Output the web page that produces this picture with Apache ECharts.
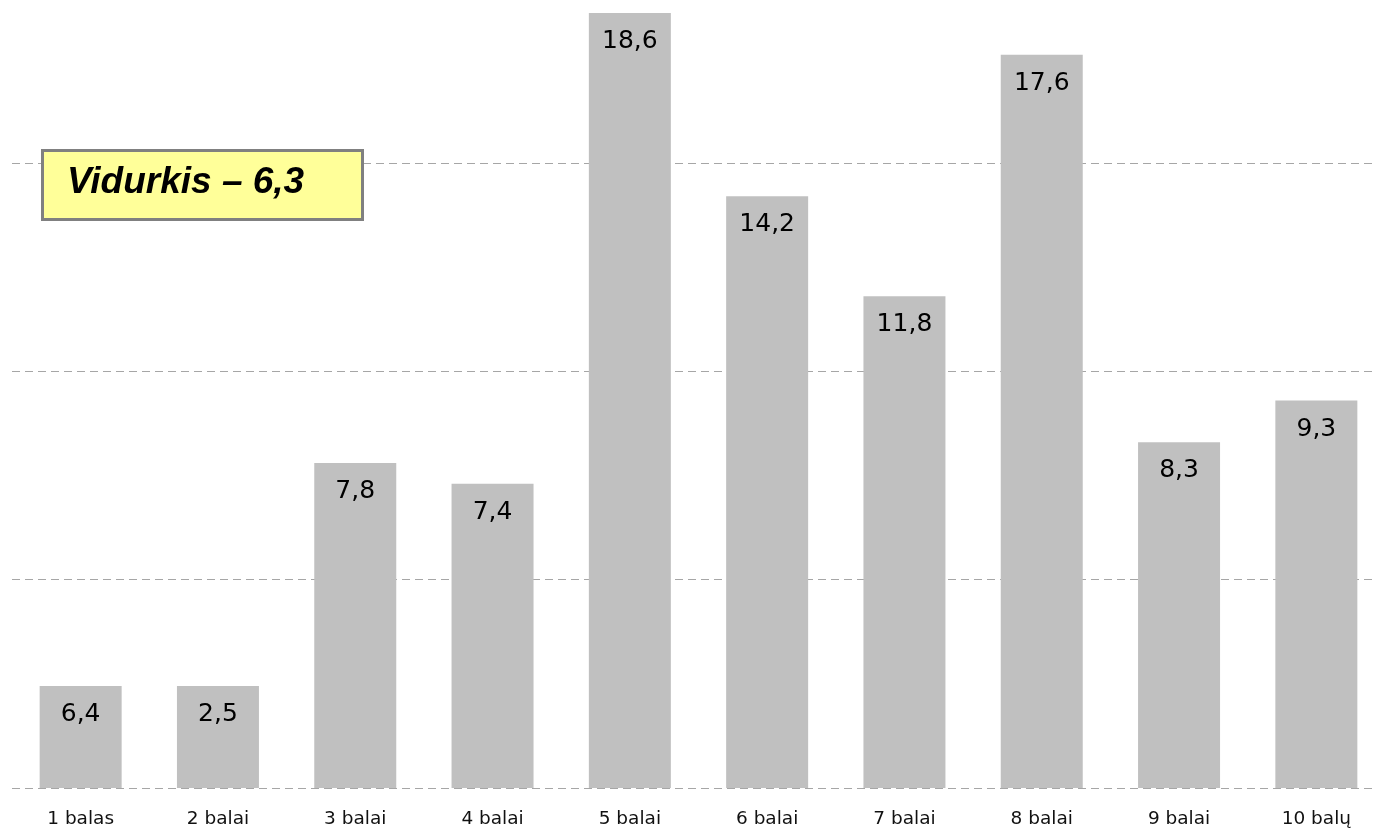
<!DOCTYPE html>
<html>
<head>
<meta charset="utf-8">
<script src="https://cdn.jsdelivr.net/npm/echarts@6/dist/echarts.min.js"></script>
<style>
html,body{margin:0;padding:0;background:#fff;overflow:hidden;}
#chart{width:1392px;height:829px;}
</style>
</head>
<body>
<div id="chart"></div>
<script>
const categories = ['1 balas','2 balai','3 balai','4 balai','5 balai','6 balai','7 balai','8 balai','9 balai','10 balų'];
const values = [2.45, 2.45, 7.8, 7.3, 18.6, 14.2, 11.8, 17.6, 8.3, 9.3];
const valueLabels = ['6,4','2,5','7,8','7,4','18,6','14,2','11,8','17,6','8,3','9,3'];
const averageText = 'Vidurkis – 6,3';

const chart = echarts.init(document.getElementById('chart'), null, {renderer: 'canvas'});
chart.setOption({
  animation: false,
  backgroundColor: '#ffffff',
  grid: {left: 12, width: 1373, top: 13, height: 775, containLabel: false},
  xAxis: {
    type: 'category',
    data: categories,
    axisLine: {show: false},
    axisTick: {show: false},
    axisLabel: {
      margin: 22,
      color: '#111',
      fontFamily: 'DejaVu Sans',
      fontSize: 18.5
    }
  },
  yAxis: {
    type: 'value',
    min: 0,
    max: 18.6,
    interval: 5,
    axisLine: {show: false},
    axisTick: {show: false},
    axisLabel: {show: false},
    splitLine: {
      show: true,
      showMaxLine: false,
      lineStyle: {color: '#a6a6a6', width: 1, type: [8, 5]}
    }
  },
  series: [{
    type: 'bar',
    data: values,
    barWidth: 82,
    itemStyle: {color: '#c0c0c0'},
    z: 3,
    label: {
      show: true,
      position: 'insideTop',
      distance: 16,
      color: '#000',
      fontFamily: 'DejaVu Sans',
      fontSize: 25,
      formatter: p => valueLabels[p.dataIndex]
    }
  }],
  graphic: [{
    type: 'rect',
    left: 41,
    top: 149,
    z: 100,
    shape: {x: 0, y: 0, width: 320, height: 69},
    style: {fill: '#ffff99', stroke: '#808080', lineWidth: 3}
  }, {
    type: 'text',
    left: 67,
    top: 164,
    z: 101,
    style: {
      text: averageText,
      fill: '#000',
      font: 'italic bold 37px "Liberation Sans", Arial, sans-serif'
    }
  }]
});
</script>
</body>
</html>
